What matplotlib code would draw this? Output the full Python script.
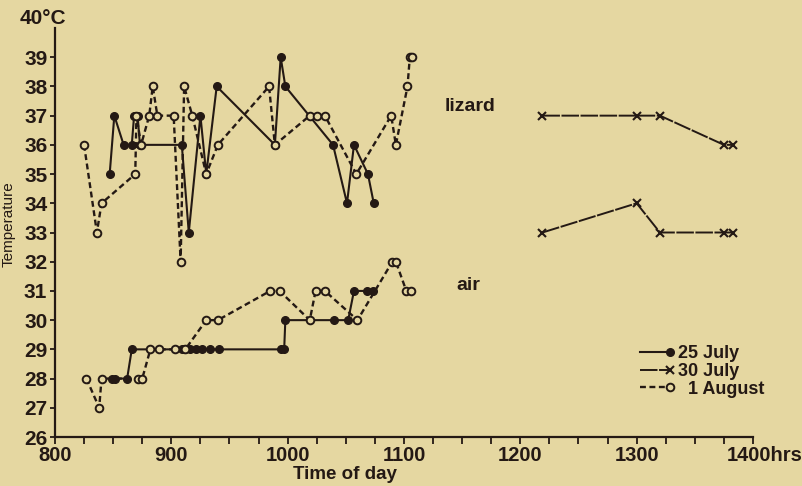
"""
Lizard body temperature and air temperature against time of day,
three observation days (25 July, 30 July, 1 August).
"""

import matplotlib
matplotlib.use('Agg')
import matplotlib.pyplot as plt
from matplotlib.legend_handler import HandlerLine2D
from matplotlib.transforms import ScaledTranslation

# --- Data ---
lizard_jul25_t = [847, 851, 859, 866, 868, 871, 873, 909, 915, 925, 930, 939,
                  989, 994, 998, 1039, 1051, 1057, 1069, 1074]
lizard_jul25 = [35, 37, 36, 36, 37, 37, 36, 36, 33, 37, 35, 38,
                36, 39, 38, 36, 34, 36, 35, 34]

lizard_aug1_t = [825, 836, 840, 869, 870, 874, 881, 884, 888, 902, 908, 911, 918,
                 930, 940, 984, 989, 1019, 1025, 1032, 1059, 1089, 1093, 1103, 1105, 1107]
lizard_aug1 = [36, 33, 34, 35, 37, 36, 37, 38, 37, 37, 32, 38, 37,
               35, 36, 38, 36, 37, 37, 37, 35, 37, 36, 38, 39, 39]

lizard_jul30_t = [1219, 1300, 1320, 1375, 1383]
lizard_jul30 = [37, 37, 37, 36, 36]

air_jul25_t = [849, 852, 862, 866, 909, 912, 916, 921, 926, 933, 941,
               994, 997, 998, 1040, 1052, 1057, 1068, 1073]
air_jul25 = [28, 28, 28, 29, 29, 29, 29, 29, 29, 29, 29,
             29, 29, 30, 30, 30, 31, 31, 31]

air_aug1_t = [827, 838, 840, 871, 875, 882, 889, 903, 912, 930, 940,
              985, 993, 1019, 1024, 1032, 1060, 1090, 1093, 1102, 1106]
air_aug1 = [28, 27, 28, 28, 28, 29, 29, 29, 29, 30, 30,
            31, 31, 30, 31, 31, 30, 32, 32, 31, 31]

air_jul30_t = [1219, 1300, 1320, 1375, 1383]
air_jul30 = [33, 34, 33, 33, 33]

x_ticks = [800, 900, 1000, 1100, 1200, 1300, 1400]
x_labels = ['800', '900', '1000', '1100', '1200', '1300', '1400hrs']
y_ticks = list(range(26, 40))

# --- Style ---
BG = '#e5d7a1'
INK = '#241914'
FONT = ['Liberation Sans Narrow', 'Liberation Sans', 'DejaVu Sans']
plt.rcParams['font.family'] = FONT

style_jul25 = dict(color=INK, linestyle='-', linewidth=1.5, marker='o',
                   markersize=5.5, markerfacecolor=INK, markeredgecolor=INK)
style_jul30 = dict(color=INK, linestyle=(0, (9, 0.8)), linewidth=1.4, marker='x',
                   markersize=5.5, markeredgewidth=1.5)
style_aug1 = dict(color=INK, linestyle=(0, (2.5, 1.5)), linewidth=1.7, marker='o',
                  markersize=5.5, markerfacecolor=BG, markeredgecolor=INK,
                  markeredgewidth=1.4)


class EndMarker(HandlerLine2D):
    """Legend sample with the marker only at the right-hand end."""
    def create_artists(self, *args, **kwargs):
        artists = super().create_artists(*args, **kwargs)
        for a in artists:
            a.set_markevery([len(a.get_xdata()) - 1])
        return artists


fig = plt.figure(figsize=(8.03, 4.86), dpi=100, facecolor=BG)
ax = fig.add_axes([55 / 803, 1 - 437 / 486, (753 - 55) / 803, (437 - 28) / 486])
ax.set_facecolor(BG)

ax.plot(lizard_jul25_t, lizard_jul25, label='25 July', **style_jul25)
ax.plot(lizard_jul30_t, lizard_jul30, label='30 July', **style_jul30)
ax.plot(lizard_aug1_t, lizard_aug1, label='  1 August', **style_aug1)
ax.plot(air_jul25_t, air_jul25, **style_jul25)
ax.plot(air_jul30_t, air_jul30, **style_jul30)
ax.plot(air_aug1_t, air_aug1, **style_aug1)

# --- Axes ---
ax.set_xlim(800, 1400)
ax.set_ylim(26, 40)
for side in ('top', 'right'):
    ax.spines[side].set_visible(False)
for side in ('left', 'bottom'):
    ax.spines[side].set_linewidth(1.6)
    ax.spines[side].set_color(INK)

ax.set_xticks(x_ticks)
ax.set_xticks(range(800, 1401, 25), minor=True)
ax.set_xticklabels(x_labels, fontsize=14.5, fontweight='bold')
ax.set_yticks(y_ticks)
ax.set_yticklabels([str(t) for t in y_ticks], fontsize=15, fontweight='bold')
ax.tick_params(axis='both', which='both', colors=INK, width=1.3)
ax.tick_params(axis='x', which='both', length=5, pad=1.5)
ax.tick_params(axis='y', length=3.5, pad=2)

# "1400hrs" sits a bit to the right of the last tick
last = ax.get_xticklabels()[-1]
last.set_transform(last.get_transform() + ScaledTranslation(0.12, 0, fig.dpi_scale_trans))

fig.text(20 / 803, 1 - 18 / 486, '40°C', fontsize=15, fontweight='bold',
         color=INK, ha='left', va='center')

ax.set_xlabel('Time of day', fontsize=13.5, fontweight='bold', color=INK)
ax.xaxis.set_label_coords(0.415, -0.072)
ax.set_ylabel('Temperature', fontsize=11, color=INK)
ax.yaxis.set_label_coords(-0.056, 0.52)

ax.text(1135, 37.3, 'lizard', fontsize=14, fontweight='bold', color=INK,
        ha='left', va='center')
ax.text(1145, 31.2, 'air', fontsize=14, fontweight='bold', color=INK,
        ha='left', va='center')

leg = ax.legend(loc='upper left', bbox_to_anchor=(0.83, 0.225),
                frameon=False, numpoints=2, handlelength=2.3, handletextpad=0.1,
                labelspacing=0.05, borderpad=0, borderaxespad=0,
                handler_map={plt.Line2D: EndMarker()},
                prop={'family': FONT, 'size': 13, 'weight': 'bold'})
for t in leg.get_texts():
    t.set_color(INK)

fig.savefig('out.png', dpi=100, facecolor=BG)
